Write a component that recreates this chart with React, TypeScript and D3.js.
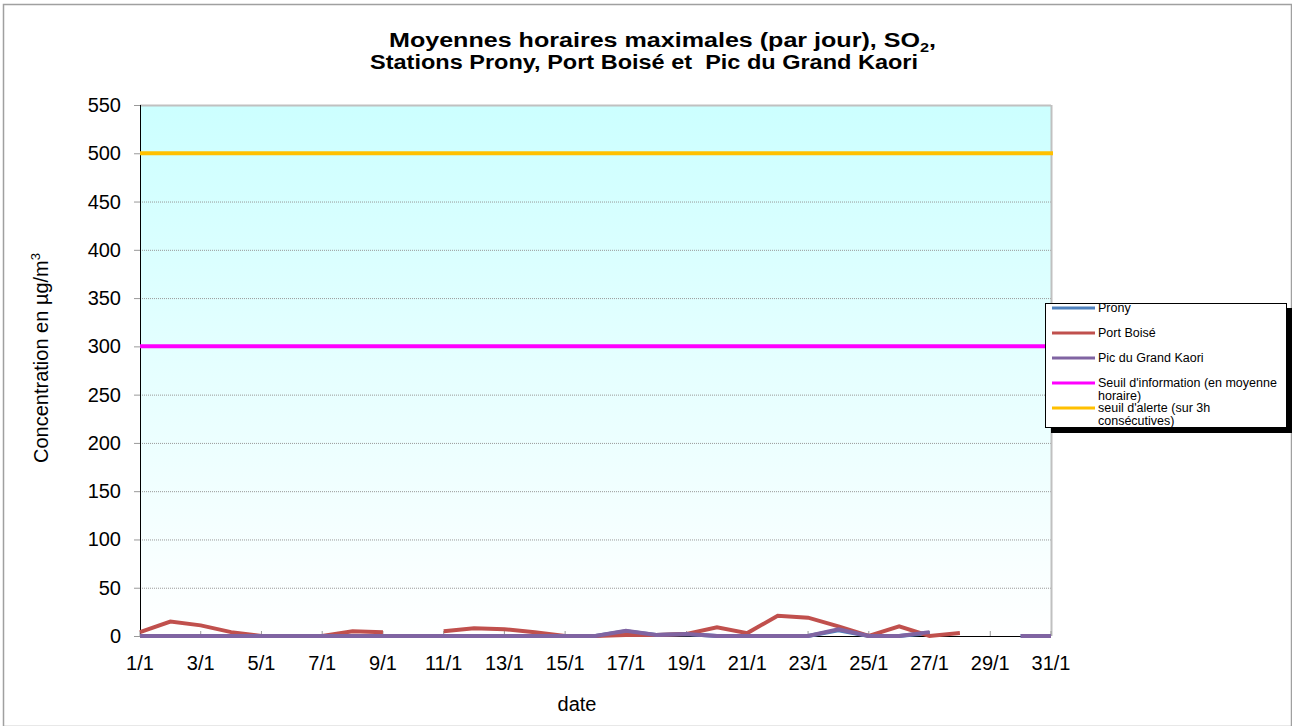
import * as d3 from 'd3';
import * as React from 'react';

const width = 1292;
const height = 726;
const margin = { top: 105, right: 241, bottom: 90, left: 140 };

const days = d3.range(1, 32).map(d => `${d}/1`);
const tickLabels = days.filter((_, i) => i % 2 === 0);

// null = no measurement
const prony: (number | null)[] = [
  0, 0, 0, 0, 0, 0, 0, 0, 0, 0, 0, 0, 0, 0, 0, 0, 5, 1, 2, 0, 0, 0, 0, 6, 0, 0, 3, null, null, 0, 0,
];
const portBoise: (number | null)[] = [
  4, 15, 11, 4, 0, 0, 0, 5, 4, null, 5, 8, 7, 4, 0, 0, 1, 1, 2, 9, 3, 21, 19, 10, 0, 10, 0, 3, null, null, null,
];
const picKaori: (number | null)[] = [
  0, 0, 0, 0, 0, 0, 0, 0, 0, 0, 0, 0, 0, 0, 0, 0, 5.5, 1, 2, 0, 0, 0, 0, 7, 0, 0, 4, null, null, 0, 0,
];
const seuilInfo = 300;
const seuilAlerte = 500;
const yTicks = d3.range(0, 551, 50);

const series = [
  { name: 'Prony', values: prony, color: '#4F81BD' },
  { name: 'Port Boisé', values: portBoise, color: '#C0504D' },
  { name: 'Pic du Grand Kaori', values: picKaori, color: '#8064A2' },
];

const legendItems = [
  { lines: ['Prony'], color: '#4F81BD' },
  { lines: ['Port Boisé'], color: '#C0504D' },
  { lines: ['Pic du Grand Kaori'], color: '#8064A2' },
  { lines: ["Seuil d'information (en moyenne", 'horaire)'], color: '#FF00FF' },
  { lines: ["seuil d'alerte (sur 3h", 'consécutives)'], color: '#FFC000' },
];

export default () => {
  const x = d3
    .scalePoint<string>()
    .domain(days)
    .range([margin.left, width - margin.right]);

  const y = d3
    .scaleLinear()
    .domain([0, 550])
    .range([height - margin.bottom, margin.top]);

  const line = d3
    .line<number | null>()
    .defined(d => d !== null)
    .x((_, i) => x(days[i]) as number)
    .y(d => y(d as number));

  const x0 = margin.left;
  const x1 = width - margin.right;
  const font = '"Liberation Sans", Arial, sans-serif';

  return (
    <svg
      width={width}
      height={height}
      style={{ position: 'absolute', left: 0, top: 0, fontFamily: font }}
    >
      <defs>
        <linearGradient id="bg" x1="0" y1="0" x2="0" y2="1">
          <stop offset="0" stopColor="#CCFFFF" />
          <stop offset="1" stopColor="#FFFFFF" />
        </linearGradient>
      </defs>
      <rect x={0} y={0} width={width} height={height} fill="#fff" />
      <rect x={3.5} y={4.5} width={width - 4} height={height - 4} fill="none" stroke="#A0A0A0" strokeWidth={1.5} />

      {/* title */}
      <text
        x={389}
        y={47}
        fontSize={20}
        fontWeight="bold"
        textLength={547}
        lengthAdjust="spacingAndGlyphs"
      >
        Moyennes horaires maximales (par jour), SO
        <tspan fontSize={13} dy={5}>2</tspan>
        <tspan dy={-5}>,</tspan>
      </text>
      <text
        x={370}
        y={69}
        fontSize={20}
        fontWeight="bold"
        textLength={548}
        lengthAdjust="spacingAndGlyphs"
        style={{ whiteSpace: 'pre' }}
      >
        {'Stations Prony, Port Boisé et  Pic du Grand Kaori'}
      </text>

      {/* plot area */}
      <rect x={x0} y={y(550)} width={x1 - x0} height={y(0) - y(550)} fill="url(#bg)" />
      {yTicks.slice(1).map(t => (
        <line
          key={t}
          x1={x0}
          x2={x1}
          y1={y(t) + 0.5}
          y2={y(t) + 0.5}
          stroke={t === 550 ? '#C0C0C0' : '#999'}
          strokeWidth={t === 550 ? 2 : 1}
          strokeDasharray={t === 550 ? undefined : '1,1'}
        />
      ))}
      <line x1={x1 + 0.5} x2={x1 + 0.5} y1={y(550)} y2={y(0)} stroke="#C0C0C0" strokeWidth={2} />

      {/* y axis */}
      <line x1={x0 + 0.5} x2={x0 + 0.5} y1={y(550)} y2={y(0)} stroke="#000" />
      {yTicks.map(t => (
        <g key={t}>
          <line x1={x0 - 6} x2={x0} y1={y(t) + 0.5} y2={y(t) + 0.5} stroke="#999" />
          <text x={121} y={y(t)} dy="0.35em" textAnchor="end" fontSize={20}>
            {t}
          </text>
        </g>
      ))}
      <text
        transform={`translate(48,358) rotate(-90)`}
        textAnchor="middle"
        fontSize={20}
      >
        Concentration en µg/m<tspan fontSize={13} dy={-8}>3</tspan>
      </text>

      {/* x axis */}
      <line x1={x0} x2={x1} y1={y(0) + 0.5} y2={y(0) + 0.5} stroke="#000" />
      {tickLabels.map(d => (
        <g key={d}>
          <line x1={x(d)} x2={x(d)} y1={y(0) - 5} y2={y(0)} stroke="#999" />
          <text x={x(d)} y={663} dy="0.35em" textAnchor="middle" fontSize={20}>
            {d}
          </text>
        </g>
      ))}
      <text x={577} y={704} dy="0.35em" textAnchor="middle" fontSize={20}>
        date
      </text>

      {/* thresholds */}
      <line x1={x0} x2={x1 + 2} y1={y(seuilInfo)} y2={y(seuilInfo)} stroke="#FF00FF" strokeWidth={4} />
      <line x1={x0} x2={x1 + 2} y1={y(seuilAlerte)} y2={y(seuilAlerte)} stroke="#FFC000" strokeWidth={4} />

      {/* series */}
      {series.map(s => (
        <path key={s.name} d={line(s.values) || ''} fill="none" stroke={s.color} strokeWidth={4} />
      ))}

      {/* legend */}
      <rect x={1051} y={308} width={241} height={125} fill="#000" />
      <rect x={1045.5} y={303.5} width={241} height={124} fill="#fff" stroke="#000" />
      {legendItems.map((item, i) => {
        const ly = 308 + i * 25;
        return (
          <g key={i}>
            <line x1={1052} x2={1095} y1={ly} y2={ly} stroke={item.color} strokeWidth={3} />
            {item.lines.map((t, j) => (
              <text key={j} x={1098} y={ly + j * 13} dy="0.35em" fontSize={12.5}>
                {t}
              </text>
            ))}
          </g>
        );
      })}
    </svg>
  );
};
